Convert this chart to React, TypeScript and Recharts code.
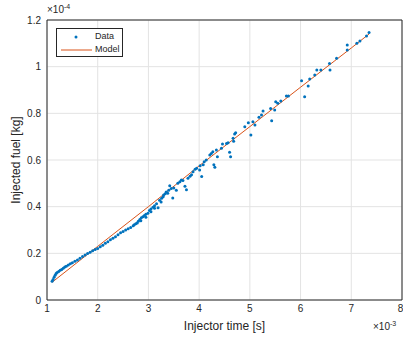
import { CartesianGrid, Scatter, ScatterChart, XAxis, YAxis } from 'recharts';

// injector time in ms (x 1e-3 s), injected fuel in 1e-4 kg
const dataTime = [
  1.10, 1.12, 1.14, 1.16, 1.18, 1.20, 1.23, 1.26, 1.29, 1.32, 1.35, 1.38, 1.42, 1.46, 1.50,
  1.55, 1.60, 1.65, 1.70, 1.75, 1.80, 1.85, 1.90, 1.95, 2.00, 2.05, 2.10, 2.15, 2.20, 2.25,
  2.30, 2.35, 2.40, 2.45, 2.50, 2.55, 2.60, 2.65, 2.70, 2.72, 2.75, 2.78, 2.80, 2.83, 2.85,
  2.86, 2.89, 2.92, 2.95, 2.95, 2.99, 3.02, 3.05, 3.05, 3.09, 3.12, 3.12, 3.16, 3.19, 3.22,
  3.25, 3.26, 3.29, 3.30, 3.33, 3.35, 3.38, 3.40, 3.42, 3.45, 3.48, 3.50, 3.55, 3.58, 3.62,
  3.65, 3.68, 3.72, 3.75, 3.78, 3.82, 3.85, 3.88, 3.92, 3.95, 4.01, 4.02, 4.05, 4.08, 4.10,
  4.14, 4.21, 4.24, 4.27, 4.29, 4.31, 4.34, 4.36, 4.44, 4.46, 4.54, 4.57, 4.60, 4.62, 4.67,
  4.68, 4.70, 4.72, 4.90, 4.97, 5.02, 5.06, 5.10, 5.18, 5.23, 5.26, 5.41, 5.43, 5.49, 5.51,
  5.55, 5.61, 5.72, 5.76, 6.02, 6.08, 6.15, 6.18, 6.28, 6.32, 6.40, 6.57, 6.58, 6.71, 6.92,
  6.92, 7.11, 7.17, 7.30, 7.35,
];
const dataFuel = [
  0.080, 0.088, 0.097, 0.106, 0.114, 0.118, 0.122, 0.127, 0.131, 0.136, 0.141, 0.145, 0.150, 0.155, 0.160,
  0.166, 0.171, 0.179, 0.186, 0.193, 0.199, 0.205, 0.211, 0.216, 0.221, 0.228, 0.235, 0.243, 0.250, 0.258,
  0.265, 0.271, 0.280, 0.288, 0.294, 0.300, 0.305, 0.311, 0.318, 0.322, 0.327, 0.330, 0.338, 0.345, 0.340,
  0.352, 0.357, 0.362, 0.368, 0.355, 0.372, 0.384, 0.390, 0.378, 0.398, 0.404, 0.393, 0.412, 0.395, 0.428,
  0.420, 0.436, 0.442, 0.450, 0.455, 0.463, 0.458, 0.470, 0.490, 0.478, 0.437, 0.480, 0.470, 0.500, 0.507,
  0.514, 0.512, 0.487, 0.472, 0.522, 0.530, 0.537, 0.550, 0.560, 0.565, 0.557, 0.575, 0.529, 0.580, 0.592,
  0.600, 0.621, 0.628, 0.635, 0.580, 0.569, 0.643, 0.614, 0.650, 0.669, 0.671, 0.674, 0.633, 0.614, 0.693,
  0.680, 0.711, 0.717, 0.743, 0.760, 0.707, 0.764, 0.750, 0.783, 0.793, 0.810, 0.821, 0.768, 0.814, 0.850,
  0.843, 0.853, 0.874, 0.874, 0.940, 0.871, 0.917, 0.947, 0.964, 0.986, 0.986, 1.014, 0.986, 1.036, 1.093,
  1.071, 1.100, 1.110, 1.131, 1.146,
];

const modelTime = [1.1, 2, 3, 4, 5, 6, 7, 7.35];
const modelFuel = [0.076, 0.230, 0.400, 0.575, 0.743, 0.912, 1.080, 1.140];

const xTicks = [1, 2, 3, 4, 5, 6, 7, 8];
const yTicks = [0, 0.2, 0.4, 0.6, 0.8, 1, 1.2];

const data = dataTime.map((x, i) => ({ x, y: dataFuel[i] }));
const model = modelTime.map((x, i) => ({ x, y: modelFuel[i] }));

const BLUE = '#0072BD';
const ORANGE = '#D95319';
const AXIS = '#262626';
const FONT = 'Liberation Sans, Arial, Helvetica, sans-serif';

const dot = (p: any) => <circle cx={p.cx} cy={p.cy} r={1.5} fill={BLUE} />;

export default function App() {
  return (
    <div style={{ position: 'absolute', left: 0, top: 0, width: 403, height: 339, background: '#fff', fontFamily: FONT }}>
      <ScatterChart width={403} height={339} margin={{ top: 20, right: 1, bottom: 0, left: 0 }}>
        <CartesianGrid stroke="#e3e3e3" strokeWidth={1} />
        <XAxis
          type="number"
          dataKey="x"
          domain={[1, 8]}
          ticks={xTicks}
          height={39}
          tickLine={false}
          tickSize={0}
          tickMargin={5}
          axisLine={{ stroke: AXIS }}
          tick={{ fontSize: 10, fill: AXIS, fontFamily: FONT }}
          allowDataOverflow
        />
        <XAxis
          xAxisId="top"
          orientation="top"
          mirror
          type="number"
          domain={[1, 8]}
          ticks={xTicks}
          tick={false}
          tickSize={4}
          tickLine={{ stroke: AXIS }}
          axisLine={{ stroke: AXIS }}
          allowDataOverflow
        />
        <XAxis
          xAxisId="bottomTicks"
          orientation="bottom"
          mirror
          type="number"
          domain={[1, 8]}
          ticks={xTicks}
          tick={false}
          tickSize={4}
          tickLine={{ stroke: AXIS }}
          axisLine={false}
          allowDataOverflow
        />
        <YAxis
          type="number"
          dataKey="y"
          domain={[0, 1.2]}
          ticks={yTicks}
          width={47}
          tickLine={false}
          tickSize={0}
          tickMargin={6}
          axisLine={{ stroke: AXIS }}
          tick={{ fontSize: 10, fill: AXIS, fontFamily: FONT }}
          tickFormatter={(v: number) => String(Number(v.toFixed(1)))}
          allowDataOverflow
        />
        <YAxis
          yAxisId="right"
          orientation="right"
          mirror
          type="number"
          domain={[0, 1.2]}
          ticks={yTicks}
          tick={false}
          tickSize={4}
          tickLine={{ stroke: AXIS }}
          axisLine={{ stroke: AXIS }}
          allowDataOverflow
        />
        <YAxis
          yAxisId="leftTicks"
          orientation="left"
          mirror
          type="number"
          domain={[0, 1.2]}
          ticks={yTicks}
          tick={false}
          tickSize={4}
          tickLine={{ stroke: AXIS }}
          axisLine={false}
          allowDataOverflow
        />
        <Scatter
          name="Model"
          data={model}
          line={{ stroke: ORANGE, strokeWidth: 1 }}
          shape={() => null}
          isAnimationActive={false}
        />
        <Scatter name="Data" data={data} shape={dot} isAnimationActive={false} />
      </ScatterChart>

      <div style={{ position: 'absolute', left: 47, top: 3, fontSize: 10, color: AXIS }}>
        ×10<sup style={{ fontSize: 7 }}>-4</sup>
      </div>
      <div style={{ position: 'absolute', left: 373, top: 320, fontSize: 10, color: AXIS }}>
        ×10<sup style={{ fontSize: 7 }}>-3</sup>
      </div>
      <div style={{ position: 'absolute', left: 0, width: 449, top: 319, textAlign: 'center', fontSize: 12, color: AXIS }}>
        Injector time [s]
      </div>
      <div
        style={{
          position: 'absolute',
          left: 16,
          top: 160,
          transform: 'translate(-50%, -50%) rotate(-90deg)',
          whiteSpace: 'nowrap',
          fontSize: 12,
          color: AXIS,
        }}
      >
        Injected fuel [kg]
      </div>

      <div
        style={{
          position: 'absolute',
          left: 56,
          top: 28,
          width: 67,
          height: 29,
          border: `1px solid ${AXIS}`,
          background: '#fff',
          fontSize: 9,
          color: AXIS,
          boxSizing: 'border-box',
        }}
      >
        <svg width={36} height={27} style={{ position: 'absolute', left: 2, top: 0 }}>
          <circle cx={17} cy={8} r={1.5} fill={BLUE} />
          <line x1={2} x2={33} y1={21} y2={21} stroke={ORANGE} strokeWidth={1} />
        </svg>
        <div style={{ position: 'absolute', left: 38, top: 2 }}>Data</div>
        <div style={{ position: 'absolute', left: 38, top: 15 }}>Model</div>
      </div>
    </div>
  );
}
